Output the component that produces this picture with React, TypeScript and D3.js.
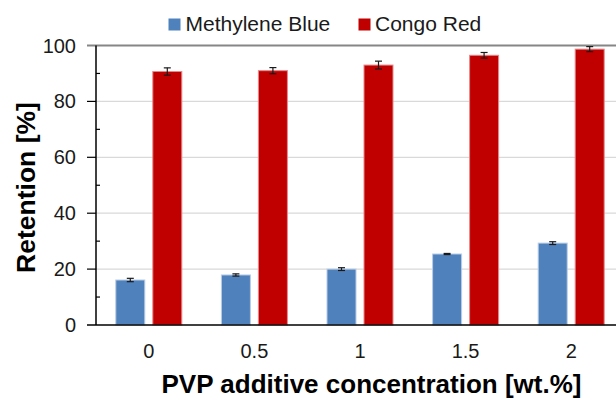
import React from "react";
import * as d3 from "d3";

const categories = ["0", "0.5", "1", "1.5", "2"];
const seriesNames = ["Methylene Blue", "Congo Red"];
const methyleneBlue = [16.1, 17.9, 20.0, 25.4, 29.3];
const methyleneBlueErr = [0.6, 0.4, 0.5, 0.2, 0.5];
const congoRed = [90.7, 91.0, 93.0, 96.5, 98.7];
const congoRedErr = [1.3, 1.1, 1.4, 1.0, 0.9];
const yTicks = [0, 20, 40, 60, 80, 100];
const yMinorTicks = [10, 30, 50, 70, 90];

const colors = ["#4F81BD", "#C00000"];
const strokes = ["#B9CDE5", "#E6898B"];

export default function App() {
  const W = 616, H = 400;
  const left = 96, top = 45.5, bottom = 325;
  const step = 105.6;
  const x = d3.scaleBand<string>().domain(categories).range([left, left + step * categories.length]).paddingInner(0).paddingOuter(0);
  const y = d3.scaleLinear().domain([0, 100]).range([bottom, top]);
  const barW = 29;
  const offset = 18.5;
  const series = [
    { vals: methyleneBlue, errs: methyleneBlueErr },
    { vals: congoRed, errs: congoRedErr },
  ];
  const font = "Arial, 'Liberation Sans', sans-serif";
  return (
    <svg width={W} height={H} style={{ position: "absolute", left: 0, top: 0 }} fontFamily={font}>
      <rect width={W} height={H} fill="#fff" />
      {/* gridlines */}
      {yTicks.filter(t => t > 0 && t < 100).map(t => (
        <line key={t} x1={left} x2={W} y1={y(t)} y2={y(t)} stroke="#D9D9D9" strokeWidth={1.3} />
      ))}
      <line x1={left - 9} x2={W} y1={y(100)} y2={y(100)} stroke="#868686" strokeWidth={1.8} />
      {/* bars */}
      {series.map((s, si) =>
        categories.map((c, i) => {
          const cx = (x(c) as number) + x.bandwidth() / 2 + (si === 0 ? -offset : offset);
          const v = s.vals[i];
          return (
            <rect key={si + "-" + c} x={cx - barW / 2} y={y(v)} width={barW} height={y(0) - y(v)} fill={colors[si]} stroke={strokes[si]} strokeWidth={1} />
          );
        })
      )}
      {/* error bars */}
      {series.map((s, si) =>
        categories.map((c, i) => {
          const cx = (x(c) as number) + x.bandwidth() / 2 + (si === 0 ? -offset : offset);
          const hi = y(s.vals[i] + s.errs[i]);
          const lo = y(s.vals[i] - s.errs[i]);
          return (
            <g key={"e" + si + "-" + c} stroke="#1a1a1a" strokeWidth={1.2}>
              <line x1={cx} x2={cx} y1={hi} y2={lo} />
              <line x1={cx - 3.5} x2={cx + 3.5} y1={hi} y2={hi} />
              <line x1={cx - 3.5} x2={cx + 3.5} y1={lo} y2={lo} />
            </g>
          );
        })
      )}
      {/* axes */}
      <line x1={left} x2={left} y1={top} y2={bottom} stroke="#000" strokeWidth={1.5} />
      <line x1={left - 9} x2={W} y1={bottom} y2={bottom} stroke="#000" strokeWidth={1.5} />
      {yTicks.filter(t => t > 0 && t < 100).map(t => (
        <line key={"mt" + t} x1={left - 9} x2={left} y1={y(t)} y2={y(t)} stroke="#000" strokeWidth={1.2} />
      ))}
      {yMinorTicks.map(t => (
        <line key={"mi" + t} x1={left} x2={left + 4} y1={y(t)} y2={y(t)} stroke="#000" strokeWidth={1.2} />
      ))}
      {yTicks.map(t => (
        <text key={"yl" + t} x={76} y={y(t) + 7} textAnchor="end" fontSize={20} fill="#1a1a1a">{t}</text>
      ))}
      {categories.map(c => (
        <text key={"xl" + c} x={(x(c) as number) + x.bandwidth() / 2} y={358} textAnchor="middle" fontSize={20} fill="#1a1a1a">{c}</text>
      ))}
      <text x={371.5} y={393} textAnchor="middle" fontSize={26} fontWeight="bold" fill="#000">PVP additive concentration [wt.%]</text>
      <text transform={`translate(35,${187.5}) rotate(-90)`} textAnchor="middle" fontSize={26.5} fontWeight="bold" fill="#000">Retention [%]</text>
      {/* legend */}
      <rect x={168.5} y={18.5} width={12} height={12} fill={colors[0]} />
      <text x={185.5} y={31} fontSize={21} fill="#1a1a1a">{seriesNames[0]}</text>
      <rect x={358.5} y={18.5} width={12} height={12} fill={colors[1]} />
      <text x={375} y={31} fontSize={21} fill="#1a1a1a">{seriesNames[1]}</text>
    </svg>
  );
}
